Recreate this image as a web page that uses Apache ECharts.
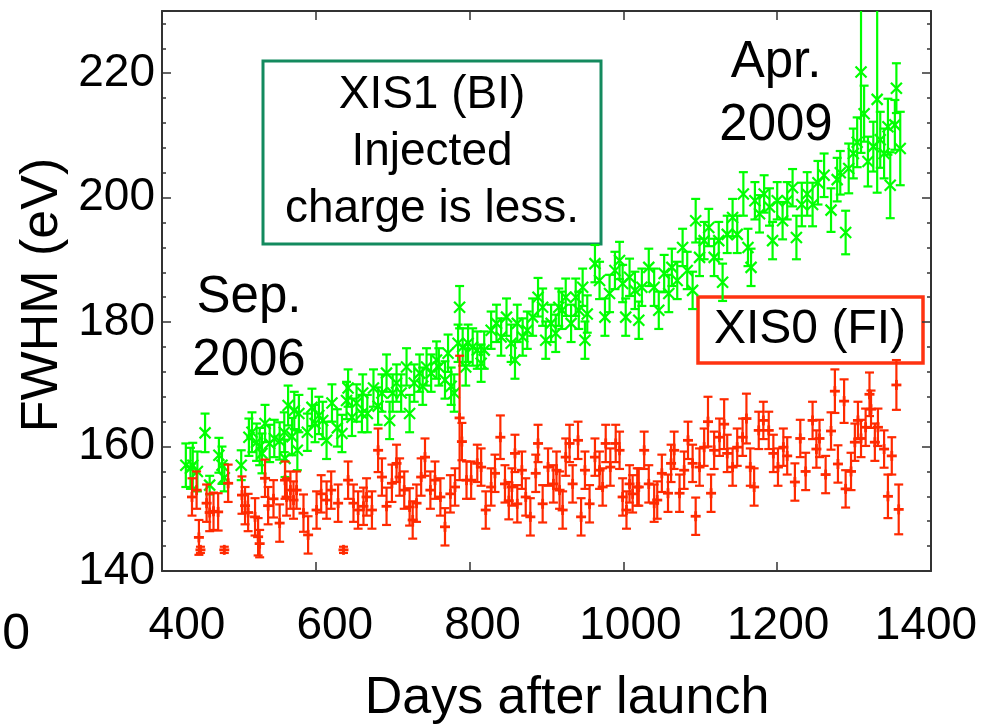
<!DOCTYPE html>
<html>
<head>
<meta charset="utf-8">
<script src="https://cdn.jsdelivr.net/npm/echarts@6/dist/echarts.min.js"></script>
<style>
  html, body { margin: 0; padding: 0; background: #fff; }
  #chart { width: 999px; height: 726px; }
</style>
</head>
<body>
<div id="chart"></div>
<script>
// [day, FWHM (eV), error]
const xis1Points = [
  [431, 157.0, 3.5], [437, 156.5, 3.3], [440, 157.0, 3.6], [446, 156.0, 3.2], [456, 162.2, 3.1],
  [462, 153.8, 1.5], [474, 158.6, 2.8], [478, 157.0, 3.0], [481, 155.0, 2.2], [503, 157.0, 2.4],
  [513, 161.5, 3.0], [517, 162.3, 3.2], [523, 160.7, 3.0], [527, 160.0, 3.0], [530, 158.9, 3.2],
  [534, 163.7, 3.0], [540, 160.5, 3.0], [546, 161.3, 3.0], [553, 160.9, 3.0], [559, 162.3, 3.2],
  [560, 158.1, 3.0], [564, 166.6, 3.2], [569, 161.6, 3.0], [572, 165.8, 3.0], [576, 159.4, 3.2],
  [578, 165.3, 3.0], [589, 162.3, 3.0], [595, 166.3, 3.0], [599, 163.7, 3.0], [604, 165.0, 3.0],
  [609, 164.2, 3.0], [614, 161.0, 3.0], [621, 167.0, 3.0], [628, 163.0, 3.0], [634, 162.1, 3.0],
  [640, 167.4, 3.0], [642, 169.4, 3.0], [647, 164.7, 3.0], [653, 167.0, 3.0], [660, 165.3, 3.0],
  [661, 168.6, 3.0], [667, 165.3, 3.0], [675, 169.4, 3.0], [681, 166.5, 3.0], [686, 168.6, 3.0],
  [692, 171.8, 3.0], [696, 164.2, 3.0], [700, 168.6, 3.0], [705, 170.2, 3.0], [711, 168.6, 3.0],
  [718, 172.8, 3.0], [722, 165.3, 3.0], [728, 170.2, 3.0], [735, 171.8, 3.0], [739, 169.7, 3.0],
  [744, 172.8, 3.0], [750, 171.8, 3.0], [757, 173.9, 3.0], [760, 172.8, 3.0], [768, 170.7, 3.0],
  [772, 175.0, 3.0], [776, 169.7, 3.0], [780, 168.6, 3.0], [785, 176.6, 3.0], [787, 182.4, 3.4],
  [791, 176.0, 3.0], [795, 172.8, 3.0], [798, 176.6, 3.0], [804, 176.0, 3.0], [810, 175.5, 3.0],
  [815, 173.4, 3.0], [819, 175.5, 3.0], [828, 178.7, 3.0], [835, 179.8, 3.0], [841, 177.6, 3.0],
  [848, 180.8, 3.0], [854, 176.6, 3.0], [859, 173.9, 3.0], [862, 179.8, 3.0], [869, 177.6, 3.0],
  [875, 178.7, 3.0], [882, 180.8, 3.0], [889, 184.0, 3.1], [895, 182.4, 3.0], [899, 177.1, 3.0],
  [906, 179.8, 3.0], [912, 178.2, 3.0], [916, 182.4, 3.0], [920, 181.9, 3.0], [925, 184.0, 3.0],
  [932, 179.8, 3.0], [938, 184.0, 3.0], [942, 181.9, 3.0], [947, 185.6, 3.0], [950, 177.1, 3.0],
  [953, 181.3, 3.0], [963, 189.4, 3.0], [969, 186.7, 3.0], [976, 180.8, 3.0], [982, 184.6, 3.0],
  [989, 188.3, 3.0], [995, 189.9, 3.0], [999, 186.2, 3.0], [1003, 180.8, 3.0], [1008, 187.2, 3.0],
  [1015, 185.1, 3.0], [1020, 180.3, 3.0], [1024, 185.6, 3.0], [1033, 188.8, 3.0], [1040, 185.6, 3.0],
  [1046, 181.9, 3.0], [1053, 187.8, 3.0], [1059, 184.6, 3.0], [1063, 188.8, 3.0], [1070, 186.7, 3.0],
  [1077, 192.0, 3.0], [1083, 188.3, 3.0], [1090, 185.1, 3.0], [1094, 196.3, 3.5], [1099, 190.4, 3.0],
  [1105, 193.1, 3.0], [1111, 195.2, 3.0], [1118, 190.4, 3.0], [1124, 193.1, 3.0], [1129, 186.4, 3.0],
  [1135, 194.1, 3.0], [1142, 196.8, 3.0], [1148, 194.1, 3.0], [1156, 200.6, 3.5], [1162, 192.0, 3.0],
  [1166, 188.8, 3.0], [1171, 199.5, 3.0], [1177, 197.4, 3.0], [1183, 200.6, 3.0], [1190, 198.5, 3.0],
  [1194, 193.1, 3.0], [1200, 199.5, 3.0], [1207, 196.3, 3.0], [1213, 199.5, 3.0], [1220, 201.6, 3.0],
  [1225, 193.6, 3.5], [1232, 198.9, 3.5], [1239, 200.6, 3.5], [1246, 198.9, 3.5], [1253, 202.4, 3.5],
  [1261, 203.6, 3.5], [1270, 198.0, 3.5], [1278, 202.9, 3.5], [1282, 204.0, 3.5], [1289, 194.4, 3.5],
  [1293, 204.7, 4.0], [1299, 207.1, 4.0], [1304, 208.9, 4.0], [1309, 220.2, 13.0], [1313, 213.5, 4.5],
  [1318, 205.8, 4.0], [1325, 208.2, 4.0], [1330, 215.8, 15.0], [1334, 209.3, 4.5], [1339, 207.1, 4.0],
  [1344, 211.4, 4.5], [1347, 202.0, 5.3], [1353, 211.7, 4.0], [1355, 217.6, 4.0], [1360, 207.9, 5.9]
];

const xis0Points = [
  [439, 151.9, 3.0], [445, 153.0, 3.0], [448, 145.4, 2.8], [450, 143.4, 0.5], [458, 150.9, 3.0],
  [462, 149.4, 3.0], [467, 149.6, 3.0], [473, 149.5, 3.0], [481, 143.4, 0.5], [486, 154.1, 3.0],
  [504, 152.2, 3.0], [508, 150.5, 3.0], [512, 149.4, 3.0], [521, 148.7, 3.0], [525, 145.5, 3.0],
  [527, 144.4, 2.2], [534, 154.9, 3.0], [538, 150.5, 3.0], [545, 151.6, 3.0], [553, 147.7, 3.0],
  [560, 154.6, 3.0], [562, 151.9, 3.0], [567, 153.0, 3.0], [571, 151.4, 3.0], [575, 153.0, 3.0],
  [584, 149.3, 3.0], [590, 145.8, 3.0], [601, 149.8, 3.0], [607, 152.4, 3.0], [614, 151.4, 3.0],
  [620, 153.0, 3.0], [629, 150.9, 3.0], [636, 143.4, 0.5], [642, 154.6, 3.0], [649, 150.9, 3.0],
  [655, 149.8, 3.0], [662, 150.4, 3.0], [666, 151.9, 3.0], [673, 149.8, 3.0], [681, 159.4, 3.5],
  [686, 155.1, 3.0], [692, 150.4, 3.0], [699, 154.1, 3.0], [705, 157.3, 3.0], [709, 155.1, 3.0],
  [715, 153.0, 3.0], [722, 150.3, 3.0], [726, 148.2, 3.0], [731, 150.9, 3.0], [737, 155.1, 3.0],
  [742, 158.3, 3.0], [749, 153.0, 3.0], [755, 154.6, 3.0], [762, 151.9, 3.0], [768, 147.1, 3.0],
  [775, 152.4, 3.0], [781, 153.5, 3.0], [787, 164.6, 10.0], [790, 160.8, 3.0], [796, 154.6, 3.0],
  [802, 154.6, 3.0], [810, 157.3, 3.0], [815, 156.7, 3.0], [821, 149.8, 3.0], [828, 153.5, 3.0],
  [833, 155.7, 3.0], [840, 161.5, 3.5], [846, 154.0, 3.0], [851, 151.3, 3.0], [855, 153.5, 3.0],
  [859, 158.9, 3.0], [862, 150.8, 3.0], [868, 156.2, 3.0], [873, 151.9, 3.0], [879, 148.7, 3.0],
  [886, 155.7, 3.0], [889, 160.5, 3.0], [895, 150.8, 3.0], [902, 156.7, 3.0], [909, 154.0, 3.0],
  [913, 156.2, 3.0], [917, 153.0, 3.0], [921, 149.8, 3.0], [925, 158.3, 3.0], [930, 160.5, 3.0],
  [934, 154.0, 3.0], [941, 161.0, 3.0], [945, 148.7, 3.0], [950, 156.2, 3.0], [956, 150.8, 3.0],
  [963, 158.3, 3.0], [969, 156.2, 3.0], [973, 153.5, 3.0], [977, 160.5, 3.0], [983, 156.7, 3.0],
  [990, 160.5, 3.0], [995, 159.4, 3.0], [999, 151.9, 3.0], [1004, 149.8, 3.0], [1008, 154.0, 3.0],
  [1012, 152.4, 3.0], [1018, 153.5, 3.0], [1020, 153.5, 3.0], [1027, 159.4, 3.0], [1033, 154.0, 3.0],
  [1040, 150.9, 3.0], [1044, 151.4, 3.0], [1050, 155.7, 3.0], [1058, 152.5, 3.0], [1062, 157.3, 3.0],
  [1066, 159.4, 3.0], [1073, 152.5, 3.0], [1079, 156.2, 3.0], [1084, 161.0, 3.0], [1090, 157.3, 3.0],
  [1094, 148.8, 3.0], [1099, 156.7, 3.0], [1105, 159.9, 3.0], [1110, 164.0, 4.0], [1114, 152.5, 3.0],
  [1118, 159.4, 3.0], [1125, 161.5, 3.0], [1131, 163.6, 4.0], [1135, 158.9, 3.0], [1142, 156.7, 3.0],
  [1148, 159.9, 3.0], [1155, 161.5, 3.0], [1160, 164.5, 4.0], [1165, 156.7, 3.0], [1170, 153.5, 3.0],
  [1176, 162.6, 3.0], [1182, 164.2, 3.0], [1189, 162.6, 3.0], [1195, 158.9, 3.0], [1201, 156.7, 3.0],
  [1208, 159.9, 3.0], [1213, 158.5, 3.0], [1223, 154.3, 3.0], [1230, 161.3, 3.0], [1237, 156.0, 3.0],
  [1246, 164.2, 3.0], [1251, 159.6, 3.0], [1255, 161.3, 3.0], [1263, 155.5, 3.0], [1270, 162.5, 3.0],
  [1275, 168.9, 3.5], [1279, 157.2, 3.0], [1287, 167.3, 3.5], [1289, 153.2, 3.0], [1296, 156.0, 3.0],
  [1301, 160.7, 3.0], [1305, 164.2, 3.0], [1309, 161.3, 3.0], [1315, 163.1, 3.0], [1320, 168.4, 3.5],
  [1322, 166.0, 3.0], [1327, 160.7, 3.0], [1331, 163.1, 3.0], [1339, 159.6, 3.0], [1344, 152.0, 3.5],
  [1349, 158.5, 3.0], [1355, 169.9, 4.0], [1358, 149.9, 4.0]
];

const xTickLabels = [400, 600, 800, 1000, 1200, 1400];
const yTickLabels = [140, 160, 180, 200, 220];

const FONT = '"Liberation Sans", Arial, sans-serif';
const FRAME = '#333';

// error bar with caps, plus an 'x' or '+' marker at the value
function errorBar(marker) {
  return function (params, api) {
    const x = api.value(0), y = api.value(1), e = api.value(2);
    const hi = api.coord([x, y + e]);
    const lo = api.coord([x, y - e]);
    const c = api.coord([x, y]);
    const color = api.visual('color');
    const style = { stroke: color, lineWidth: 2.2 };
    const cap = 4.5;
    const children = [
      { type: 'line', shape: { x1: hi[0], y1: hi[1], x2: lo[0], y2: lo[1] }, style },
      { type: 'line', shape: { x1: hi[0] - cap, y1: hi[1], x2: hi[0] + cap, y2: hi[1] }, style },
      { type: 'line', shape: { x1: lo[0] - cap, y1: lo[1], x2: lo[0] + cap, y2: lo[1] }, style }
    ];
    if (marker === 'x') {
      const m = 5.5;
      children.push(
        { type: 'line', shape: { x1: c[0] - m, y1: c[1] - m, x2: c[0] + m, y2: c[1] + m }, style },
        { type: 'line', shape: { x1: c[0] - m, y1: c[1] + m, x2: c[0] + m, y2: c[1] - m }, style }
      );
    } else {
      const m = 5;
      const thick = { stroke: color, lineWidth: 2.8 };
      children.push(
        { type: 'line', shape: { x1: c[0] - m, y1: c[1], x2: c[0] + m, y2: c[1] }, style: thick },
        { type: 'line', shape: { x1: c[0], y1: c[1] - m, x2: c[0], y2: c[1] + m }, style: thick }
      );
    }
    return { type: 'group', children };
  };
}

const chart = echarts.init(document.getElementById('chart'));

const baseX = {
  type: 'value', min: 400, max: 1400, interval: 200,
  axisLine: { show: true, lineStyle: { color: FRAME, width: 2 } },
  axisTick: { show: true, inside: true, length: 9, lineStyle: { color: FRAME, width: 1.5 } },
  axisLabel: { show: false },
  splitLine: { show: false }
};

function yAxisDef(position, interval, tickLen, showLine, showLabel) {
  return {
    type: 'value', position, min: 140, max: 230, interval,
    axisLine: { show: showLine, onZero: false, lineStyle: { color: FRAME, width: 2 } },
    axisTick: { show: true, inside: true, length: tickLen, lineStyle: { color: FRAME, width: 1.5 } },
    axisLabel: {
      show: showLabel, margin: 7, color: '#000', fontSize: 46, fontFamily: FONT,
      formatter: (v) => (yTickLabels.includes(v) ? String(v) : '')
    },
    splitLine: { show: false }
  };
}

chart.setOption({
  backgroundColor: '#fff',
  animation: false,
  grid: { left: 162, right: 68, top: 11, bottom: 155 },
  xAxis: [
    Object.assign({}, baseX, { position: 'bottom' }),
    {
      // label-only axis: the printed numbers sit slightly right of their ticks
      type: 'value', position: 'bottom', min: 366.2, max: 1406.8,
      axisLine: { show: false }, axisTick: { show: false }, splitLine: { show: false },
      axisLabel: {
        show: true, customValues: xTickLabels, margin: 32,
        color: '#000', fontSize: 46, fontFamily: FONT,
        formatter: (v) => String(v)
      }
    },
    Object.assign({}, baseX, { position: 'top' })
  ],
  yAxis: [
    yAxisDef('left', 20, 9, true, true),
    yAxisDef('left', 4, 4, false, false),
    yAxisDef('right', 20, 9, true, false),
    yAxisDef('right', 4, 4, false, false)
  ],
  series: [
    {
      name: 'XIS1 (BI)', type: 'custom', xAxisIndex: 0, yAxisIndex: 0,
      clip: true, itemStyle: { color: '#00ff00' },
      encode: { x: 0, y: 1 },
      renderItem: errorBar('x'),
      data: xis1Points
    },
    {
      name: 'XIS0 (FI)', type: 'custom', xAxisIndex: 0, yAxisIndex: 0,
      clip: true, itemStyle: { color: '#ff2a00' },
      encode: { x: 0, y: 1 },
      renderItem: errorBar('+'),
      data: xis0Points
    }
  ],
  graphic: [
    {
      type: 'text', x: 43, y: 295, rotation: Math.PI / 2,
      style: { text: 'FWHM (eV)', fill: '#000', font: '52px ' + FONT, align: 'center', verticalAlign: 'middle' }
    },
    {
      type: 'text', x: 567, y: 699,
      style: { text: 'Days after launch', fill: '#000', font: '52px ' + FONT, align: 'center', verticalAlign: 'middle' }
    },
    {
      type: 'rect', shape: { x: 263, y: 61, width: 338, height: 183 },
      style: { fill: '#fff', stroke: '#138a5e', lineWidth: 3 }
    },
    {
      type: 'text', x: 432, y: 152,
      style: {
        text: 'XIS1 (BI)\nInjected\ncharge is less.', fill: '#000', font: '46px ' + FONT,
        lineHeight: 57, align: 'center', verticalAlign: 'middle'
      }
    },
    {
      type: 'rect', shape: { x: 698, y: 297, width: 225, height: 66 },
      style: { fill: '#fff', stroke: '#ff3311', lineWidth: 3.5 }
    },
    {
      type: 'text', x: 810, y: 330,
      style: { text: 'XIS0 (FI)', fill: '#000', font: '48px ' + FONT, align: 'center', verticalAlign: 'middle' }
    },
    {
      type: 'text', x: 249, y: 329,
      style: { text: 'Sep.\n2006', fill: '#000', font: '51px ' + FONT, lineHeight: 63, align: 'center', verticalAlign: 'middle' }
    },
    {
      type: 'text', x: 776, y: 94,
      style: { text: 'Apr.\n2009', fill: '#000', font: '51px ' + FONT, lineHeight: 63, align: 'center', verticalAlign: 'middle' }
    },
    {
      type: 'text', x: 30, y: 635,
      style: { text: '0', fill: '#000', font: '50px ' + FONT, align: 'right', verticalAlign: 'middle' }
    }
  ]
});
</script>
</body>
</html>
